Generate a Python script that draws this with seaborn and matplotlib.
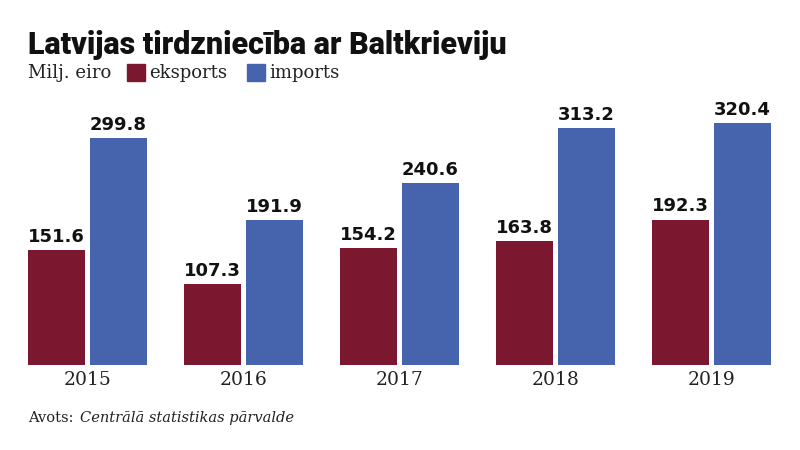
import matplotlib
matplotlib.use("Agg")
import matplotlib.pyplot as plt
import seaborn as sns
import pandas as pd
from matplotlib.patches import Rectangle

years = ["2015", "2016", "2017", "2018", "2019"]
eksports = [151.6, 107.3, 154.2, 163.8, 192.3]
imports = [299.8, 191.9, 240.6, 313.2, 320.4]
series = ["eksports", "imports"]
colors = ["#7c1730", "#4664ad"]

df = pd.DataFrame({
    "year": years * 2,
    "value": eksports + imports,
    "series": [series[0]] * len(years) + [series[1]] * len(years),
})

sns.set_theme(style="white")
plt.rcParams["font.family"] = ["DejaVu Sans"]

fig = plt.figure(figsize=(8, 4.5), dpi=100)
ax = fig.add_axes([17.3 / 800, 85 / 450, (781.7 - 17.3) / 800, 257 / 450])
sns.barplot(data=df, x="year", y="value", hue="series", palette=colors,
            width=0.79, gap=0.08, legend=False, ax=ax, saturation=1,
            linewidth=0)
ax.set_xlim(-0.45, 4.45)
ax.set_ylim(0, 340)
for s in ax.spines.values():
    s.set_visible(False)
ax.set_yticks([])
ax.set_xlabel("")
ax.set_ylabel("")
ax.tick_params(axis="x", length=0, pad=4)
for lbl in ax.get_xticklabels():
    lbl.set_fontfamily("DejaVu Serif")
    lbl.set_fontsize(13.5)
    lbl.set_color("#222222")

for cont in ax.containers:
    ax.bar_label(cont, fmt="%.1f", padding=3, fontsize=13, fontweight="bold",
                 color="#111111", fontfamily="DejaVu Sans")

fig.text(28 / 800, 1 - 45 / 450, "Latvijas tirdzniecība ar Baltkrieviju",
         fontsize=22, fontweight="black", fontfamily="Roboto", color="#111111",
         va="center", ha="left")
fig.text(28 / 800, 1 - 73 / 450, "Milj. eiro", fontsize=13,
         fontfamily="DejaVu Serif", color="#222222", va="center", ha="left")
leg_items = [(127, series[0], colors[0]), (247, series[1], colors[1])]
for x0, name, c in leg_items:
    fig.patches.append(Rectangle((x0 / 800, 1 - 81 / 450), 18 / 800, 17 / 450,
                                 transform=fig.transFigure, color=c))
    fig.text((x0 + 22) / 800, 1 - 73 / 450, name, fontsize=13,
             fontfamily="DejaVu Serif", color="#222222", va="center", ha="left")

fig.text(28 / 800, 1 - 418 / 450, "Avots: ", fontsize=10.5,
         fontfamily="DejaVu Serif", color="#222222", va="center", ha="left")
fig.text(80 / 800, 1 - 418 / 450, "Centrālā statistikas pārvalde", fontsize=10.5,
         fontfamily="DejaVu Serif", fontstyle="italic", color="#222222",
         va="center", ha="left")

fig.savefig("out.png", dpi=100, facecolor="white")
